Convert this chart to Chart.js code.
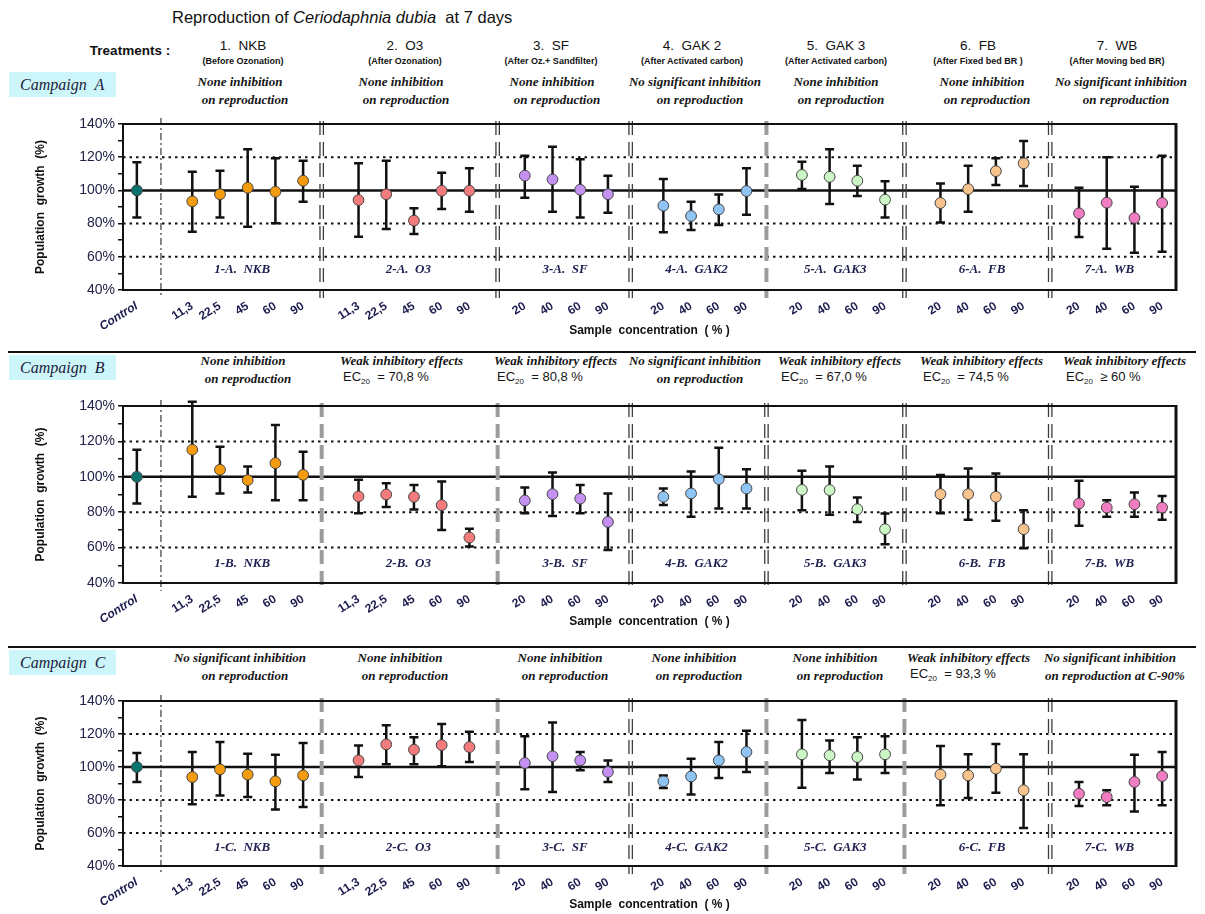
<!DOCTYPE html>
<html>
<head>
<meta charset="utf-8">
<script src="https://cdn.jsdelivr.net/npm/chart.js@4.4.1/dist/chart.umd.min.js"></script>
<style>
  body { margin: 0; background: #fff; }
  #page { position: relative; width: 1205px; height: 914px; overflow: hidden;
          font-family: "Liberation Sans", Arial, sans-serif; color: #111; }
  .t { position: absolute; white-space: nowrap; line-height: 1; }
  .c { transform: translate(-50%, -50%); }
  .l { transform: translateY(-50%); }
  .cmt { font-family: "Liberation Serif", "Times New Roman", serif; font-style: italic;
         font-weight: bold; font-size: 13px; color: #161616; }
  .ec { font-size: 13px; color: #161616; }
  .ec sub { font-size: 8px; vertical-align: -3px; }
  .box { position: absolute; background: #cdf6fb; }
  .camp { font-family: "Liberation Serif", "Times New Roman", serif; font-style: italic;
          font-size: 16px; color: #1c1c3a; }
  .sep { position: absolute; height: 1.5px; background: #111; }
  canvas { position: absolute; left: 0; }
</style>
</head>
<body>
<div id="page"></div>
<script>
// x axis: one label per measured point, in slot order
var xLabels = ['Control',
  '11,3', '22,5', '45', '60', '90',
  '11,3', '22,5', '45', '60', '90',
  '20', '40', '60', '90',
  '20', '40', '60', '90',
  '20', '40', '60', '90',
  '20', '40', '60', '90',
  '20', '40', '60', '90'];
// slot of each point (an empty slot between treatments)
var xSlots = [0, 2, 3, 4, 5, 6, 8, 9, 10, 11, 12, 14, 15, 16, 17, 19, 20, 21, 22,
              24, 25, 26, 27, 29, 30, 31, 32, 34, 35, 36, 37];
var groupSizes = [1, 5, 5, 4, 4, 4, 4, 4];
var treatShort = ['NKB', 'O3', 'SF', 'GAK2', 'GAK3', 'FB', 'WB'];

// Campaign A : mean, upper and lower end of error bar (% of control)
var meanA = [100, 93.4, 97.7, 101.6, 99.2, 105.8, 94.2, 97.7, 81.8, 99.8, 99.8,
             108.9, 106.6, 100.4, 97.7, 90.8, 84.6, 88.6, 99.6, 109.3, 108.2, 105.8, 94.4,
             92.4, 100.8, 111.6, 116.3, 86.2, 92.6, 83.4, 92.4];
var hiA = [117, 111.3, 111.9, 124.8, 119.3, 117.9, 116.3, 117.9, 89.2, 110.6, 113.3,
           120.9, 126.3, 118.7, 108.9, 106.9, 93.2, 97.6, 113.3, 117.3, 124.8, 114.9, 105.5,
           104.2, 114.9, 119.3, 129.8, 101.6, 119.9, 102.2, 120.9];
var loA = [83.6, 75.1, 83.6, 78.1, 80.2, 93.2, 72.1, 76.7, 73.7, 88.8, 87.2,
           95.6, 87.2, 83.6, 86.6, 74.8, 76.1, 79.2, 85.4, 100.8, 91.8, 96.6, 83.6,
           80.6, 87.2, 103.2, 102.6, 72, 64.8, 62.5, 63.1];

// Campaign B
var meanB = [100, 115.3, 104, 98.1, 107.7, 101.1, 88.9, 90, 88.7, 84, 65.7,
             86.6, 90.2, 87.7, 74.5, 88.7, 90.6, 98.7, 93.4, 92.6, 92.5, 81.7, 70.4,
             90.2, 90.2, 88.7, 70.4, 84.9, 82.6, 84.5, 82.6];
var hiB = [115.3, 142.4, 117, 105.8, 129.3, 114.1, 98.3, 96.4, 95.3, 97.4, 70.7,
           94, 102.4, 95.3, 90.6, 93.4, 103, 116.4, 104.3, 103.4, 105.8, 88.3, 79.2,
           101, 104.7, 101.9, 81.1, 97.7, 86.8, 91.1, 89.2];
var loB = [84.9, 88.7, 90.6, 91.1, 86.8, 86.8, 79.4, 83, 81.5, 70, 60.6,
           79.4, 77.9, 79.4, 58.7, 84, 77.4, 82.1, 82.1, 81.1, 78.5, 74.5, 61.9,
           79.4, 75.7, 75.1, 59.6, 72.3, 77.4, 77.4, 75.7];

// Campaign C
var meanC = [100, 93.9, 98.6, 95.4, 91.3, 94.9, 104, 113.7, 110.5, 113.3, 112.1,
             102.4, 106.5, 104, 97, 91.3, 94.3, 104, 109.1, 107.7, 107.1, 106.1, 107.7,
             95.4, 94.9, 99, 85.9, 83.8, 81.8, 90.9, 94.5];
var hiC = [108.5, 109.1, 115.2, 108.1, 107.5, 114.5, 113, 125.3, 118, 126, 121.3,
           118.6, 127, 109.1, 104, 94.9, 105, 115.2, 122, 128.5, 116, 118, 118.6,
           112.7, 107.7, 113.9, 107.7, 90.9, 85.9, 107.5, 109.1];
var loC = [90.9, 77.4, 82.8, 81.8, 74.3, 75.8, 93.9, 101.6, 101.6, 100.4, 103,
           86.5, 84.8, 98, 90.9, 87.3, 83.4, 93.3, 97, 87.5, 96.4, 92.5, 96.4,
           76.8, 81.2, 84.4, 63, 76.4, 76.8, 73.1, 76.8];

// header texts
var treatNames = ['1.  NKB', '2.  O3', '3.  SF', '4.  GAK 2', '5.  GAK 3', '6.  FB', '7.  WB'];
var treatSubs = ['(Before Ozonation)', '(After Ozonation)', '(After Oz.+ Sandfilter)',
  '(After Activated carbon)', '(After Activated carbon)', '(After Fixed bed BR )', '(After Moving bed BR)'];
var commentsA = [['None inhibition', 'on reproduction'], ['None inhibition', 'on reproduction'],
  ['None inhibition', 'on reproduction'], ['No significant inhibition', 'on reproduction'],
  ['None inhibition', 'on reproduction'], ['None inhibition', 'on reproduction'],
  ['No significant inhibition', 'on reproduction']];
var commentsB = [['None inhibition', 'on reproduction'], ['Weak inhibitory effects', '= 70,8 %'],
  ['Weak inhibitory effects', '= 80,8 %'], ['No significant inhibition', 'on reproduction'],
  ['Weak inhibitory effects', '= 67,0 %'], ['Weak inhibitory effects', '= 74,5 %'],
  ['Weak inhibitory effects', '\u2265 60 %']];
var commentsC = [['No significant inhibition', 'on reproduction'], ['None inhibition', 'on reproduction'],
  ['None inhibition', 'on reproduction'], ['None inhibition', 'on reproduction'],
  ['None inhibition', 'on reproduction'], ['Weak inhibitory effects', '= 93,3 %'],
  ['No significant inhibition', 'on reproduction at C-90%']];

// ---- layout / style ----
var groupColors = ['#0b736f', '#f59b0e', '#f37b7c', '#c491f2', '#8fc5f5', '#ccf6c6', '#f8c48e', '#f27cc2'];
var headerX = [243, 405, 551, 692, 836, 978, 1117];
var commentXA = [240, 401, 552, 695, 836, 982, 1121];
var commentXB = [243, 340, 494, 695, 778, 920, 1063];
var commentXC = [240, 400, 560, 694, 835, 907, 1110];
var dividerAt = [7.17, 13.52, 18.32, 23.22, 28.2, 33.46];
var controlLineAt = 1.37;
var sectionLabelAt = [4.3, 10.3, 15.95, 20.7, 25.7, 31.0, 35.6];

var page = document.getElementById('page');

function addText(html, cls, x, y, extra) {
  var d = document.createElement('div');
  d.className = 't ' + cls;
  d.innerHTML = html;
  d.style.left = x + 'px';
  d.style.top = y + 'px';
  if (extra) d.style.cssText += extra;
  page.appendChild(d);
  return d;
}

// title and treatment header
addText('Reproduction of <i>Ceriodaphnia dubia</i>&nbsp; at 7 days', 'l', 172, 17, 'font-size:16.5px;');
addText('Treatments :', 'c', 130, 51, 'font-size:13.5px;font-weight:bold;');
for (var i = 0; i < treatNames.length; i++) {
  addText(treatNames[i].replace(/ /g, '&nbsp;'), 'c', headerX[i], 46, 'font-size:13.5px;');
  addText(treatSubs[i], 'c', headerX[i], 61, 'font-size:9px;font-weight:bold;');
}

function addCampaign(letter, boxTop, sepY, line1, line2, comments, cx) {
  if (sepY) {
    var s = document.createElement('div');
    s.className = 'sep';
    s.style.cssText += 'left:8px;width:1188px;top:' + sepY + 'px;';
    page.appendChild(s);
  }
  var b = document.createElement('div');
  b.className = 'box';
  b.style.cssText += 'left:9px;width:107px;height:25px;top:' + boxTop + 'px;';
  page.appendChild(b);
  addText('Campaign&nbsp; ' + letter, 'l camp', 20, boxTop + 12.5);
  comments.forEach(function (c, k) {
    if (c[0].indexOf('Weak') === 0) {
      addText(c[0], 'l cmt', cx[k], line1);
      addText('EC<sub>20</sub>&nbsp; ' + c[1], 'l ec', cx[k] + 3, line2);
    } else {
      addText(c[0], 'c cmt', cx[k], line1);
      addText(c[1], 'c cmt', cx[k] + 5, line2);
    }
  });
}
addCampaign('A', 72, 0, 81, 99, commentsA, commentXA);
addCampaign('B', 355, 351, 360, 378, commentsB, commentXB);
addCampaign('C', 650, 646, 657, 675, commentsC, commentXC);

// colour of every point from its treatment group
var pointColors = [];
groupSizes.forEach(function (n, g) {
  for (var k = 0; k < n; k++) pointColors.push(groupColors[g]);
});

Chart.defaults.font.family = '"Liberation Sans", Arial, sans-serif';

function strokeLine(ctx, x1, y1, x2, y2) {
  ctx.beginPath();
  ctx.moveTo(x1, y1);
  ctx.lineTo(x2, y2);
  ctx.stroke();
}

var decorPlugin = {
  id: 'decor',
  beforeDatasetsDraw: function (chart) {
    var ctx = chart.ctx, a = chart.chartArea;
    var x = chart.scales.x, y = chart.scales.y;
    var opt = chart.options.plugins.decor;
    ctx.save();
    // dotted levels
    ctx.strokeStyle = '#111';
    ctx.lineWidth = 2;
    ctx.setLineDash([2.5, 4]);
    [60, 80, 120].forEach(function (v) {
      var py = y.getPixelForValue(v);
      strokeLine(ctx, a.left, py, a.right, py);
    });
    // control level
    ctx.setLineDash([]);
    ctx.lineWidth = 2.5;
    var p100 = y.getPixelForValue(100);
    strokeLine(ctx, a.left, p100, a.right, p100);
    // control separator (dash-dot)
    ctx.lineWidth = 1;
    ctx.setLineDash([7, 3, 2, 3]);
    var pc = x.getPixelForValue(controlLineAt);
    strokeLine(ctx, pc, a.top - 6, pc, a.bottom + 8);
    // treatment dividers
    dividerAt.forEach(function (u, k) {
      var px = x.getPixelForValue(u);
      if (opt.dividers[k] === 'g') {
        ctx.strokeStyle = '#9c9c9c';
        ctx.lineWidth = 4;
        ctx.setLineDash([14, 7]);
        strokeLine(ctx, px, a.top - 3, px, a.bottom + 8);
      } else {
        ctx.strokeStyle = '#3c3c3c';
        ctx.lineWidth = 1.3;
        ctx.setLineDash([14, 7]);
        strokeLine(ctx, px - 1.7, a.top - 3, px - 1.7, a.bottom + 8);
        strokeLine(ctx, px + 1.7, a.top - 3, px + 1.7, a.bottom + 8);
      }
    });
    // section labels
    ctx.setLineDash([]);
    ctx.fillStyle = '#1e2050';
    ctx.font = 'italic bold 13px "Liberation Serif", "Times New Roman", serif';
    ctx.textAlign = 'center';
    ctx.textBaseline = 'middle';
    sectionLabelAt.forEach(function (u, k) {
      ctx.fillText((k + 1) + '-' + opt.letter + '.  ' + treatShort[k],
                   x.getPixelForValue(u), y.getPixelForValue(opt.labelLevel));
    });
    // error bars
    var ds = chart.data.datasets[0];
    ctx.strokeStyle = '#111';
    ctx.lineWidth = 2.5;
    ds.data.forEach(function (p, i) {
      var px = x.getPixelForValue(p.x);
      var top = y.getPixelForValue(ds.errHi[i]);
      var bot = y.getPixelForValue(ds.errLo[i]);
      ctx.beginPath();
      ctx.moveTo(px, top); ctx.lineTo(px, bot);
      ctx.moveTo(px - 4.5, top); ctx.lineTo(px + 4.5, top);
      ctx.moveTo(px - 4.5, bot); ctx.lineTo(px + 4.5, bot);
      ctx.stroke();
    });
    ctx.restore();
  },
  afterDraw: function (chart) {
    var ctx = chart.ctx, a = chart.chartArea;
    ctx.save();
    ctx.strokeStyle = '#111';
    ctx.lineWidth = 2;
    ctx.strokeRect(a.left, a.top, a.right - a.left, a.bottom - a.top);
    ctx.lineWidth = 3;
    strokeLine(ctx, a.right, a.top - 1, a.right, a.bottom + 1);
    ctx.restore();
  }
};

function makePanel(top, padTop, plotH, axisH, letter, mean, lo, hi, dividers, labelLevel) {
  var canvas = document.createElement('canvas');
  var h = padTop + plotH + axisH;
  canvas.width = 1205;
  canvas.height = h;
  canvas.style.top = top + 'px';
  page.appendChild(canvas);

  new Chart(canvas, {
    type: 'scatter',
    data: {
      datasets: [{
        data: mean.map(function (v, i) { return { x: xSlots[i] + 0.5, y: v }; }),
        errHi: hi,
        errLo: lo,
        pointRadius: 5.4,
        pointBackgroundColor: pointColors,
        pointBorderColor: '#444',
        pointBorderWidth: 1
      }]
    },
    options: {
      responsive: false,
      animation: false,
      layout: { padding: { top: padTop, right: 29, left: 0, bottom: 0 } },
      plugins: {
        legend: { display: false },
        tooltip: { enabled: false },
        decor: { letter: letter, dividers: dividers, labelLevel: labelLevel }
      },
      scales: {
        x: {
          type: 'linear', min: 0, max: 38,
          afterBuildTicks: function (s) {
            s.ticks = xSlots.map(function (k) { return { value: k + 0.5 }; });
          },
          afterFit: function (s) { s.height = axisH; },
          grid: { display: false, drawTicks: false },
          border: { display: false },
          ticks: {
            autoSkip: false, minRotation: 32, maxRotation: 32, padding: 9,
            color: '#1d1c4f',
            font: function (c) {
              return { size: 12, weight: 'bold', style: c.index === 0 ? 'italic' : 'normal' };
            },
            callback: function (v, i) { return xLabels[i]; }
          },
          title: {
            display: true, text: 'Sample  concentration  ( % )', color: '#111',
            font: { size: 12, weight: 'bold' }, padding: { top: 0, bottom: 2 }
          }
        },
        y: {
          min: 40, max: 140,
          afterFit: function (s) { s.width = 123; },
          grid: { drawOnChartArea: false, drawTicks: true, tickLength: 5, color: '#111', lineWidth: 1.5 },
          border: { display: false },
          ticks: {
            stepSize: 10, autoSkip: false, padding: 3, color: '#23234a',
            font: { size: 14 },
            callback: function (v) { return v % 20 === 0 ? v + '%' : ''; }
          },
          title: {
            display: true, text: 'Population  growth  (%)', color: '#111',
            font: { size: 12, weight: 'bold' }, padding: { top: 33, bottom: 0 }
          }
        }
      }
    },
    plugins: [decorPlugin]
  });
}

makePanel(110, 14, 166, 50, 'A', meanA, loA, hiA, ['d', 'd', 'd', 'g', 'd', 'd'], 52);
makePanel(390, 16, 177, 48, 'B', meanB, loB, hiB, ['g', 'g', 'd', 'd', 'd', 'd'], 51);
makePanel(688, 13, 165, 48, 'C', meanC, loC, hiC, ['g', 'g', 'd', 'g', 'g', 'd'], 51);
</script>
</body>
</html>
